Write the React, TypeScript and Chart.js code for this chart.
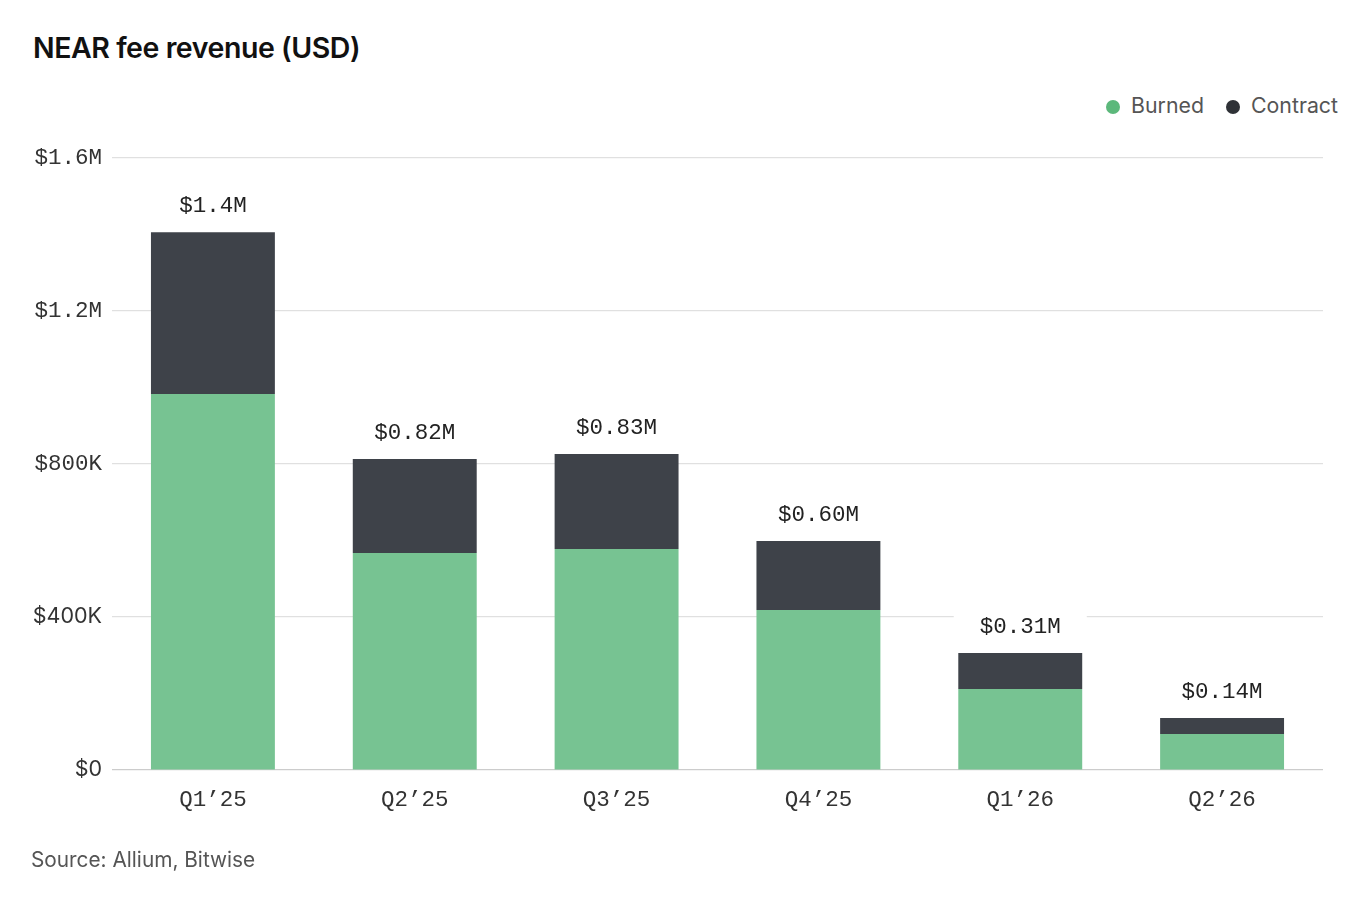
import React, { useEffect, useRef } from "react";
import { Chart, registerables } from "chart.js";

Chart.register(...registerables);

const quarters = ["Q1’25", "Q2’25", "Q3’25", "Q4’25", "Q1’26", "Q2’26"];
const burned = [983000, 567000, 578000, 418000, 212000, 94000];
const contract = [423000, 246000, 248000, 181000, 94000, 42000];
const totalLabels = ["$1.4M", "$0.82M", "$0.83M", "$0.60M", "$0.31M", "$0.14M"];

const MONO = "'Liberation Mono', 'DejaVu Sans Mono', monospace";
const SANS = "Inter, 'Noto Sans', sans-serif";

const GREEN = "#77c392";
const DARK = "#3e4249";

// labels with a white box over the grid, above each stacked bar
const totalsPlugin = {
  id: "totals",
  afterDraw(chart: Chart) {
    const ctx = chart.ctx;
    const top = chart.getDatasetMeta(chart.data.datasets.length - 1);
    ctx.save();
    ctx.font = `22.5px ${MONO}`;
    ctx.textAlign = "center";
    ctx.textBaseline = "middle";
    top.data.forEach((bar: any, i: number) => {
      const y = bar.y - 26;
      const w = ctx.measureText(totalLabels[i]).width;
      ctx.fillStyle = "#ffffff";
      ctx.fillRect(bar.x - w / 2 - 26, y - 15, w + 52, 30);
      ctx.fillStyle = "#222222";
      ctx.fillText(totalLabels[i], bar.x, y);
    });
    ctx.restore();
  },
};

const NearFeeRevenue: React.FC = () => {
  const chartRef = useRef<HTMLCanvasElement | null>(null);

  useEffect(() => {
    if (!chartRef.current) return;
    const ctx = chartRef.current.getContext("2d");
    if (!ctx) return;

    const myChart = new Chart(ctx, {
      type: "bar",
      data: {
        labels: quarters,
        datasets: [
          { label: "Burned", data: burned, backgroundColor: GREEN },
          { label: "Contract", data: contract, backgroundColor: DARK },
        ],
      },
      options: {
        responsive: false,
        animation: false,
        datasets: {
          bar: { barPercentage: 0.614, categoryPercentage: 1 },
        },
        layout: { padding: { left: 0, right: 45, top: 158, bottom: 78 } },
        plugins: {
          legend: { display: false },
          tooltip: { enabled: false },
        },
        scales: {
          x: {
            stacked: true,
            grid: { display: false },
            border: { display: false },
            ticks: {
              padding: 9,
              color: "#333333",
              font: { family: MONO, size: 22.5 },
            },
            afterFit(scale: any) {
              scale.height = 50;
            },
          },
          y: {
            stacked: true,
            min: 0,
            max: 1600000,
            z: 1,
            border: { display: false },
            grid: {
              drawTicks: false,
              lineWidth: 1.2,
              color: (c: any) =>
                c.tick && c.tick.value === 0 ? "rgba(0,0,0,0.2)" : "rgba(0,0,0,0.12)",
            },
            ticks: {
              stepSize: 400000,
              padding: 10,
              color: "#333333",
              font: (c: any) =>
                c.tick && c.tick.value < 800000
                  ? { family: SANS, size: 21.5 }
                  : { family: MONO, size: 22.5 },
              callback: (v: any) => {
                const n = Number(v);
                if (n >= 1000000) return `$${(n / 1000000).toFixed(1)}M`;
                if (n > 0) return `$${n / 1000}K`;
                return "$0";
              },
            },
            afterFit(scale: any) {
              scale.width = 112;
            },
          },
        },
      },
      plugins: [totalsPlugin],
    } as any);

    return () => {
      myChart.destroy();
    };
  }, []);

  const dot = (color: string) => (
    <span
      style={{
        display: "inline-block",
        width: 14,
        height: 14,
        borderRadius: "50%",
        background: color,
        marginRight: 11,
        verticalAlign: "-1px",
      }}
    />
  );

  return (
    <div
      style={{
        position: "absolute",
        left: 0,
        top: 0,
        width: 1368,
        height: 898,
        background: "#fff",
        fontFamily: SANS,
      }}
    >
      <div
        style={{
          position: "absolute",
          left: 33,
          top: 33,
          fontSize: 28.5,
          lineHeight: "29px",
          fontWeight: 600,
          letterSpacing: -0.45,
          color: "#111",
          whiteSpace: "nowrap",
        }}
      >
        NEAR fee revenue (USD)
      </div>
      <div
        style={{
          position: "absolute",
          right: 30,
          top: 94,
          fontSize: 21.3,
          lineHeight: "22px",
          color: "#555",
          whiteSpace: "nowrap",
        }}
      >
        {dot("#5cb87b")}
        <span style={{ marginRight: 22 }}>Burned</span>
        {dot("#2f3237")}
        <span>Contract</span>
      </div>
      <canvas
        ref={chartRef}
        width={1368}
        height={898}
        style={{ position: "absolute", left: 0, top: 0, width: 1368, height: 898 }}
      />
      <div
        style={{
          position: "absolute",
          left: 31,
          top: 849,
          fontSize: 20.8,
          lineHeight: "21px",
          color: "#555",
          whiteSpace: "nowrap",
        }}
      >
        Source: Allium, Bitwise
      </div>
    </div>
  );
};

export default function App() {
  return <NearFeeRevenue />;
}
